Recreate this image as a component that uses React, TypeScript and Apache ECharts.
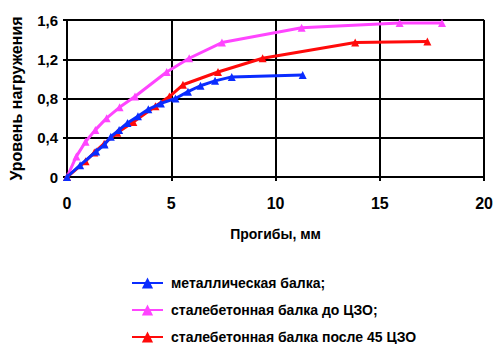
import React, { useEffect, useRef } from "react";
import * as echarts from "echarts";

const seriesNames = [
  "металлическая балка;",
  "сталебетонная балка до ЦЗО;",
  "сталебетонная балка после 45 ЦЗО",
];
const colors = ["#0a2cff", "#ff45ff", "#ff0a0a"];

const blueData: [number, number][] = [
  [0, 0], [0.63, 0.12], [1.4, 0.26], [1.8, 0.33], [2.1, 0.41], [2.5, 0.48],
  [2.9, 0.55], [3.4, 0.62], [3.9, 0.69], [4.5, 0.75], [5.2, 0.8], [5.8, 0.87],
  [6.4, 0.93], [7.1, 0.98], [7.9, 1.02], [11.3, 1.04],
];
const pinkData: [number, number][] = [
  [0, 0], [0.45, 0.21], [0.89, 0.36], [1.36, 0.48], [1.9, 0.6], [2.52, 0.71],
  [3.26, 0.82], [4.78, 1.07], [5.86, 1.21], [7.43, 1.37], [11.25, 1.52],
  [15.95, 1.57], [17.98, 1.57],
];
const redData: [number, number][] = [
  [0, 0], [0.89, 0.16], [1.31, 0.25], [1.78, 0.34], [2.41, 0.45], [3.18, 0.56],
  [4.24, 0.72], [4.91, 0.82], [5.56, 0.94], [7.24, 1.07], [9.38, 1.21],
  [13.82, 1.37], [17.28, 1.38],
];

const xName = "Прогибы, мм";
const yName = "Уровень нагружения";

export default function App() {
  const ref = useRef<HTMLDivElement>(null);
  useEffect(() => {
    if (!ref.current) return;
    const chart = echarts.init(ref.current, null, { renderer: "svg" });
    const font = "'Liberation Sans', Arial, sans-serif";
    const datas = [blueData, pinkData, redData];
    chart.setOption({
      animation: false,
      backgroundColor: "#ffffff",
      textStyle: { fontFamily: font },
      grid: { left: 61, right: 7, top: 20, bottom: 167, containLabel: false },
      xAxis: {
        type: "value",
        min: 0,
        max: 20,
        interval: 5,
        name: xName,
        nameLocation: "middle",
        nameGap: 50,
        nameTextStyle: { fontFamily: font, fontWeight: "bold", fontSize: 14, color: "#000" },
        axisLine: { show: true, lineStyle: { color: "#000", width: 2 } },
        axisTick: { show: true, length: 4, lineStyle: { color: "#000", width: 2 } },
        axisLabel: { fontFamily: font, fontWeight: "bold", fontSize: 16, color: "#000", margin: 18 },
        splitLine: { show: true, lineStyle: { color: "#000", width: 2 } },
      },
      yAxis: {
        type: "value",
        min: 0,
        max: 1.6,
        interval: 0.4,
        name: yName,
        nameLocation: "middle",
        nameGap: 43,
        nameTextStyle: { fontFamily: font, fontWeight: "bold", fontSize: 16, color: "#000" },
        axisLine: { show: true, lineStyle: { color: "#000", width: 2 } },
        axisTick: { show: true, length: 4, lineStyle: { color: "#000", width: 2 } },
        axisLabel: {
          fontFamily: font,
          fontWeight: "bold",
          fontSize: 15,
          color: "#000",
          margin: 9,
          formatter: (v: number) => String(Math.round(v * 10) / 10).replace(".", ","),
        },
        splitLine: { show: true, lineStyle: { color: "#000", width: 2 } },
      },
      legend: {
        orient: "vertical",
        left: 126,
        top: 270,
        padding: 5,
        height: 120,
        itemGap: 11,
        itemWidth: 31,
        itemHeight: 14,
        textStyle: {
          fontFamily: font,
          fontWeight: "bold",
          fontSize: 14,
          color: "#000",
          lineHeight: 16,
          padding: [0, 0, 0, 3],
        },
        data: seriesNames,
      },
      series: seriesNames.map((n, i) => ({
        name: n,
        type: "line",
        data: datas[i],
        color: colors[i],
        symbol: "triangle",
        symbolSize: 8,
        showSymbol: true,
        lineStyle: { width: 3, color: colors[i] },
        itemStyle: { color: colors[i] },
        z: i === 0 ? 4 : i === 2 ? 3 : 2,
      })),
    });
    return () => chart.dispose();
  }, []);
  return <div ref={ref} style={{ width: 496, height: 344, position: "absolute", left: 0, top: 0 }} />;
}
